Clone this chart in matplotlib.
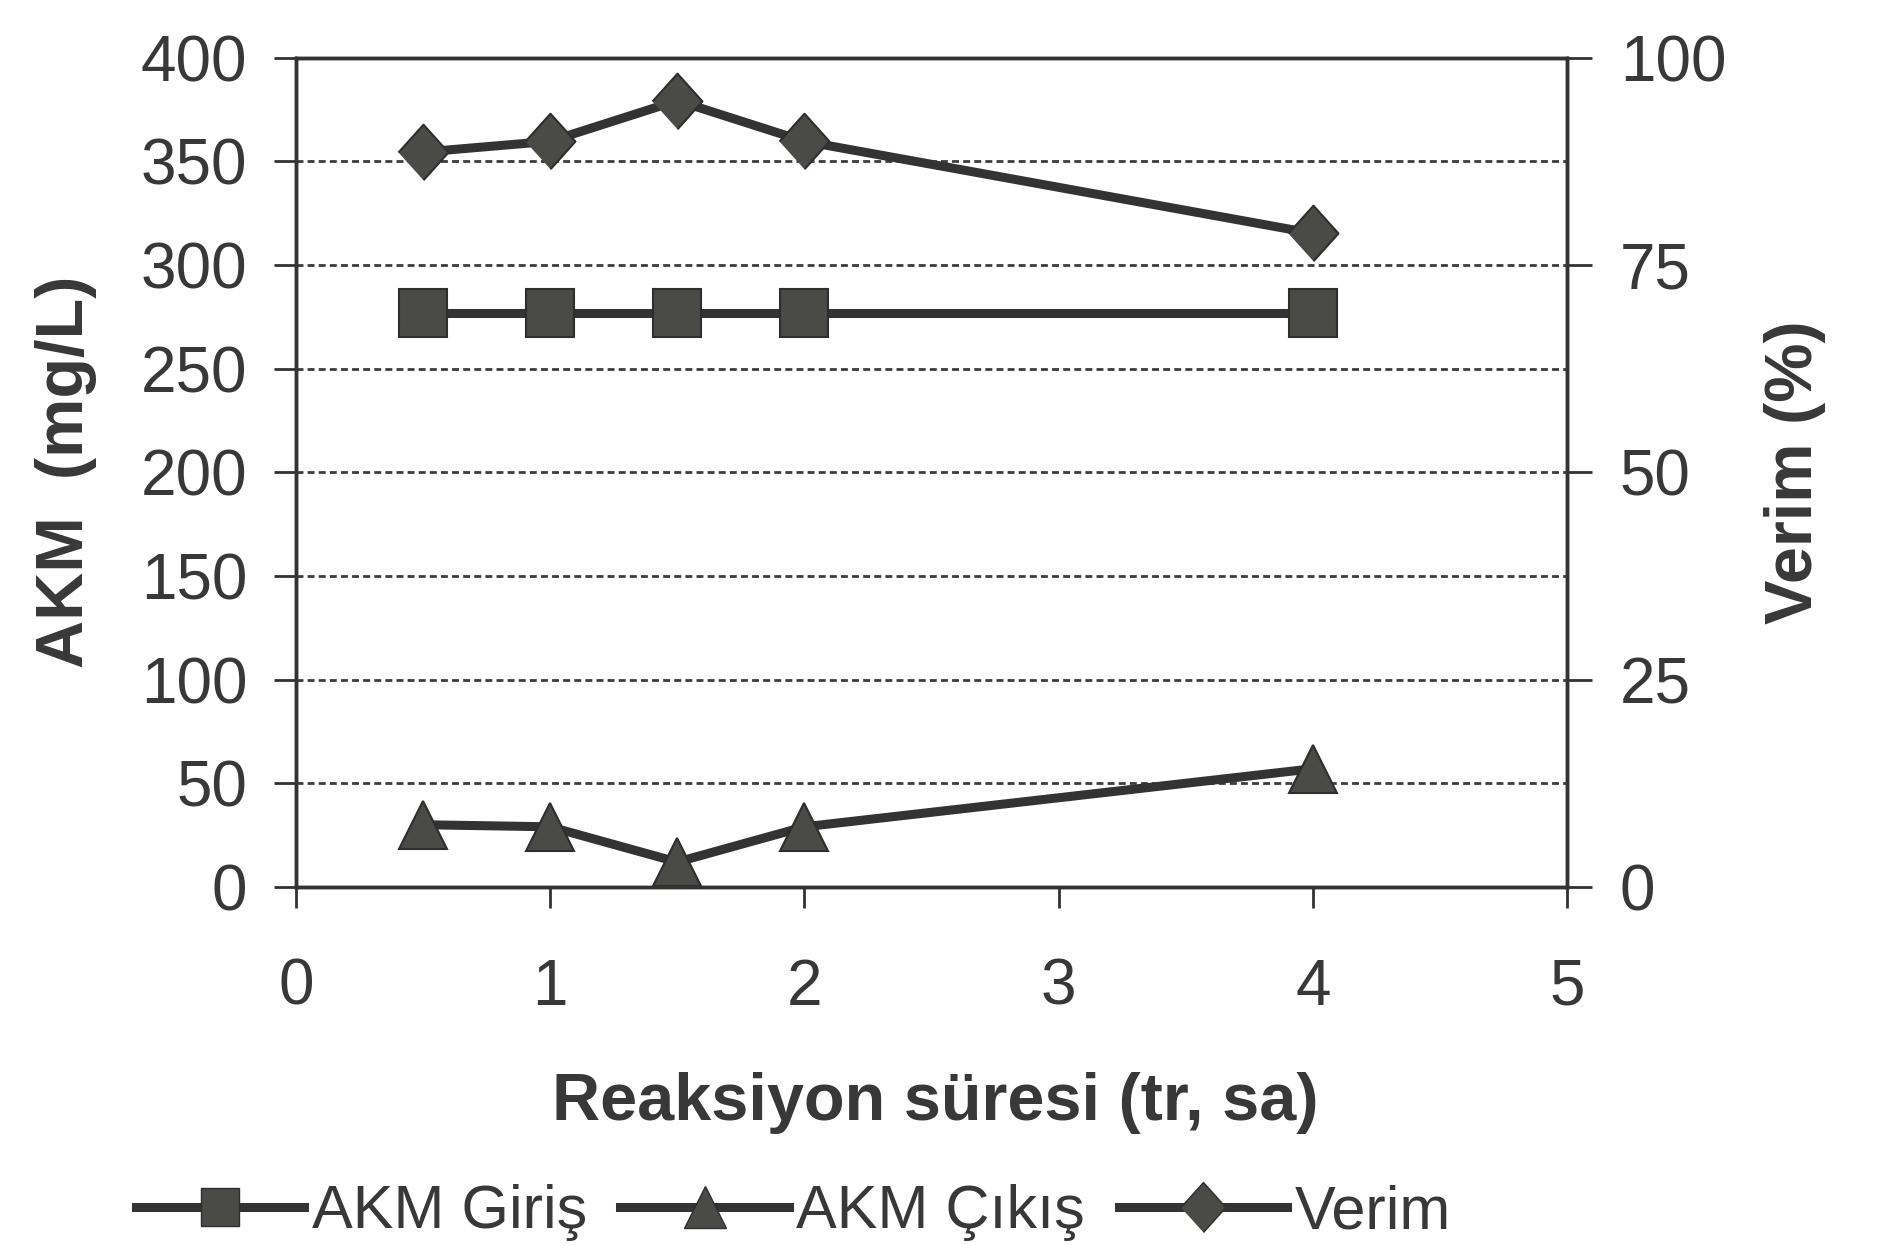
import matplotlib.pyplot as plt
from matplotlib.lines import Line2D

# data
sure = [0.5, 1, 1.5, 2, 4]
akm_giris = [277, 277, 277, 277, 277]
akm_cikis = [30, 29, 12, 29, 57]
verim = [88.6, 89.9, 94.8, 89.9, 78.8]

x_ticks = [0, 1, 2, 3, 4, 5]
left_ticks = list(range(0, 401, 50))
right_ticks = [0, 25, 50, 75, 100]

line_col = '#333333'
mark_col = '#4a4a46'
text_col = '#383838'

plt.rcParams['font.family'] = ['Liberation Sans', 'DejaVu Sans']

fig = plt.figure(figsize=(18.8, 12.45), dpi=100)
ax = fig.add_axes([0.1574, 0.2876, 0.6761, 0.6662])
ax2 = ax.twinx()

diamond = [(-0.45, 0), (0, 0.5), (0.45, 0), (0, -0.5)]

ax.plot(sure, akm_giris, color=line_col, lw=6.5, marker='s', ms=34,
        mfc=mark_col, mec='#2e2e2e', mew=1.5, zorder=3)
ax.plot(sure, akm_cikis, color=line_col, lw=6.5, marker='^', ms=35,
        mfc=mark_col, mec='#2e2e2e', mew=1.5, zorder=3)
ax2.plot(sure, verim, color=line_col, lw=6.5, marker=diamond, ms=40,
         mfc=mark_col, mec='#2e2e2e', mew=1.5, zorder=3)

ax.set_xlim(0, 5)
ax.set_ylim(0, 400)
ax2.set_ylim(0, 100)
ax.set_xticks(x_ticks)
ax.set_yticks(left_ticks)
ax2.set_yticks(right_ticks)

# dashed grid at the inner ticks
for v in left_ticks[1:-1]:
    ax.axhline(v, color='#3c3c3c', lw=2, ls=(0, (2.5, 1.5)), zorder=1)

for a in (ax, ax2):
    for s in a.spines.values():
        s.set_color('#333333')
        s.set_linewidth(2.5)

ax.tick_params(axis='x', direction='out', length=15, width=2, pad=36,
               labelsize=46, labelcolor=text_col, color='#333333')
ax.tick_params(axis='y', direction='out', length=16, width=2, pad=19,
               labelsize=46, labelcolor=text_col, color='#333333')
ax2.tick_params(axis='y', direction='out', length=18, width=2, pad=20,
                labelsize=46, labelcolor=text_col, color='#333333')

ax.set_xlabel('Reaksiyon süresi (tr, sa)', fontsize=48, fontweight='bold',
              color=text_col, va='center')
ax.xaxis.set_label_coords(0.503, -0.26)
ax.set_ylabel('AKM  (mg/L)', fontsize=48, fontweight='bold',
              color=text_col, va='center')
ax.yaxis.set_label_coords(-0.181, 0.5)
ax2.set_ylabel('Verim (%)', fontsize=48, fontweight='bold',
               color=text_col, va='center', rotation=90)
ax2.yaxis.set_label_coords(1.179, 0.5)

handles = [
    Line2D([], [], color=line_col, lw=6.5, marker='s', ms=28, mfc=mark_col, mec='#2e2e2e'),
    Line2D([], [], color=line_col, lw=6.5, marker='^', ms=30, mfc=mark_col, mec='#2e2e2e'),
    Line2D([], [], color=line_col, lw=6.5, marker=diamond, ms=36, mfc=mark_col, mec='#2e2e2e'),
]
fig.legend(handles, ['AKM Giriş', 'AKM Çıkış', 'Verim'], loc='center',
           bbox_to_anchor=(0.422, 0.026), ncol=3, frameon=False,
           fontsize=44, handlelength=2.75, handletextpad=0.13,
           columnspacing=0.55, labelcolor=text_col)

fig.savefig('out.png', dpi=100, facecolor='white')
